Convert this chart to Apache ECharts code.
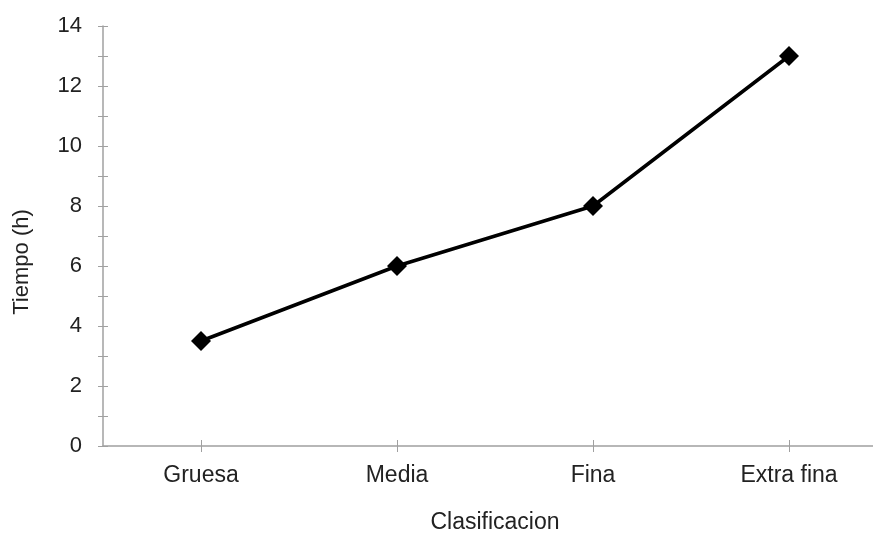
<!DOCTYPE html>
<html><head><meta charset="utf-8">
<script src="https://cdn.jsdelivr.net/npm/echarts@6/dist/echarts.min.js"></script>
<style>html,body{margin:0;padding:0;background:#fff;overflow:hidden}#c{width:887px;height:533px}</style>
</head><body><div id="c"></div>
<script>
const categories = ['Gruesa', 'Media', 'Fina', 'Extra fina'];
const tiempo = [3.5, 6, 8, 13];
const yTicks = [0, 2, 4, 6, 8, 10, 12, 14];

const chart = echarts.init(document.getElementById('c'));
const axisColor = '#a0a0a0';
const font = 'Liberation Sans, Arial, sans-serif';
chart.setOption({
  animation: false,
  grid: {left: 103, right: 0, top: 26, bottom: 87},
  xAxis: [{
    type: 'category', data: categories, boundaryGap: true,
    axisLine: {lineStyle: {color: axisColor, width: 1.5}},
    axisTick: {show: false},
    axisLabel: {color: '#222', fontSize: 23, fontFamily: font, margin: 18},
    splitLine: {show: false}
  }, {
    type: 'category', data: categories, boundaryGap: true, position: 'bottom', offset: -6,
    axisLine: {show: false},
    axisTick: {show: true, alignWithLabel: true, length: 12, lineStyle: {color: axisColor}},
    axisLabel: {show: false}, splitLine: {show: false}
  }],
  yAxis: [{
    type: 'value', min: 0, max: 14, interval: 1,
    axisLine: {show: true, lineStyle: {color: axisColor, width: 1.5}},
    axisTick: {show: false},
    axisLabel: {color: '#222', fontSize: 22, fontFamily: font, margin: 21,
      formatter: v => yTicks.indexOf(v) >= 0 ? String(v) : ''},
    splitLine: {show: false}
  }, {
    type: 'value', min: 0, max: 14, interval: 1, position: 'left', offset: -5,
    axisLine: {show: false},
    axisTick: {show: true, length: 10, lineStyle: {color: axisColor}},
    axisLabel: {show: false}, splitLine: {show: false}
  }],
  graphic: [
    {type: 'text', x: 495, y: 523,
      style: {text: 'Clasificacion', fontSize: 23, fontFamily: font, fill: '#222', align: 'center', verticalAlign: 'middle'}},
    {type: 'text', x: 22, y: 262, rotation: Math.PI / 2,
      style: {text: 'Tiempo (h)', fontSize: 22, fontFamily: font, fill: '#222', align: 'center', verticalAlign: 'middle'}}
  ],
  series: [{
    type: 'line', data: tiempo, xAxisIndex: 1, yAxisIndex: 1,
    symbol: 'none', silent: true, lineStyle: {opacity: 0}, z: 0
  }, {
    type: 'line', data: tiempo, xAxisIndex: 0, yAxisIndex: 0,
    symbol: 'diamond', symbolSize: 20,
    lineStyle: {color: '#000', width: 3.5},
    itemStyle: {color: '#000'}
  }]
});
</script></body></html>
